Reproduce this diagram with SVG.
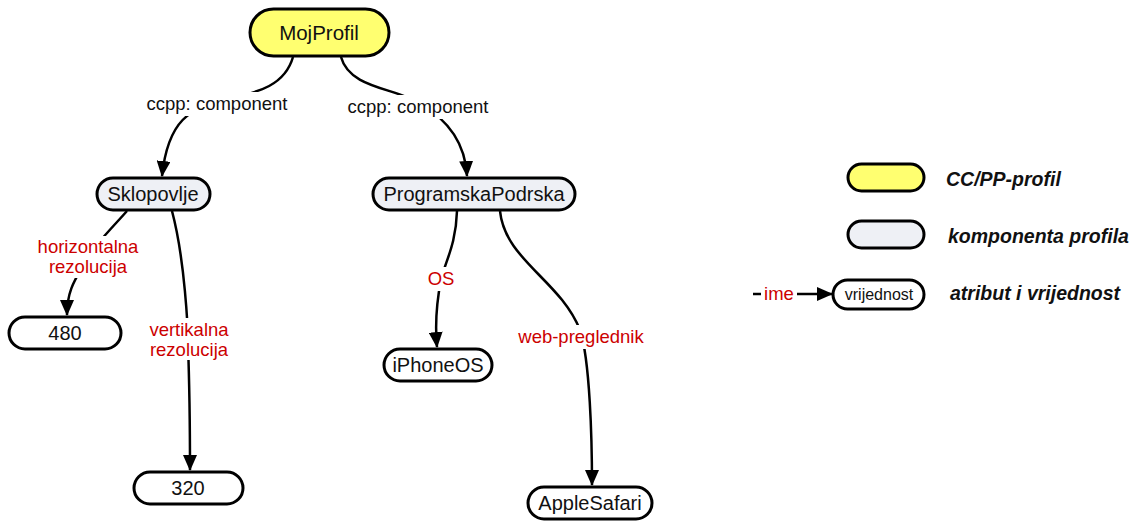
<svg xmlns="http://www.w3.org/2000/svg" width="1137" height="521" viewBox="0 0 1137 521">
<defs>
<marker id="arr" markerUnits="userSpaceOnUse" markerWidth="16" markerHeight="14" refX="15" refY="7" orient="auto">
<path d="M0,0 L16,7 L0,14 Z" fill="#000"/>
</marker>
<style>
.n{stroke:#000;stroke-width:3}
.y{fill:#FFFF70}
.g{fill:#EEF0F5}
.w{fill:#fff}
.t{font-family:"Liberation Sans",Arial,sans-serif;fill:#111;text-anchor:middle}
.c{fill:none;stroke:#000;stroke-width:2.5}
.lb{font-family:"Liberation Sans",Arial,sans-serif;font-size:18.5px;text-anchor:middle;fill:#111}
.lr{font-family:"Liberation Sans",Arial,sans-serif;font-size:18.5px;text-anchor:middle;fill:#CC0000}
.bg{fill:#fff}
.leg{font-family:"Liberation Sans",Arial,sans-serif;font-size:19.5px;font-weight:bold;font-style:italic;fill:#111}
</style>
</defs>
<g id="connectors">
<path class="c" d="M293,57 C285,85 260,92 225,100 C190,108 168,120 162,176" marker-end="url(#arr)"/>
<path class="c" d="M341,57 C350,90 400,88 420,104 C445,118 465,140 467,176" marker-end="url(#arr)"/>
<path class="c" d="M127,211 C110,230 95,245 88,257 C75,280 67,290 67,315" marker-end="url(#arr)"/>
<path class="c" d="M172,211 C185,260 188,330 188,345 C190,400 190,440 190,470" marker-end="url(#arr)"/>
<path class="c" d="M457,211 C456,245 445,262 441,280 C436,305 435,325 437,347" marker-end="url(#arr)"/>
<path class="c" d="M500,211 C505,260 560,280 580,330 C590,360 592,440 592,485" marker-end="url(#arr)"/>
<rect class="bg" x="144" y="92" width="146" height="24"/>
<text class="lb" x="217" y="110">ccpp: component</text>
<rect class="bg" x="345" y="95" width="146" height="24"/>
<text class="lb" x="418" y="113">ccpp: component</text>
<rect class="bg" x="34" y="236" width="108" height="42"/>
<text class="lr" x="88" y="253">horizontalna</text>
<text class="lr" x="88" y="273">rezolucija</text>
<rect class="bg" x="145" y="318" width="90" height="42"/>
<text class="lr" x="189" y="336">vertikalna</text>
<text class="lr" x="189" y="356">rezolucija</text>
<rect class="bg" x="427" y="267" width="28" height="24"/>
<text class="lr" x="441" y="285">OS</text>
<rect class="bg" x="515" y="325" width="132" height="24"/>
<text class="lr" x="581" y="343">web-preglednik</text>
</g>
<g id="MojProfil">
<rect class="n y" x="250" y="9" width="139" height="47" rx="23.5"/>
<text class="t" x="319" y="40" font-size="20.5">MojProfil</text>
</g>
<g id="Sklopovlje">
<rect class="n g" x="97" y="178" width="113" height="32" rx="16"/>
<text class="t" x="153" y="201" font-size="20">Sklopovlje</text>
</g>
<g id="ProgramskaPodrska">
<rect class="n g" x="373" y="178" width="202" height="32" rx="16"/>
<text class="t" x="474" y="201" font-size="20">ProgramskaPodrska</text>
</g>
<g id="n480">
<rect class="n w" x="9" y="317" width="112" height="32" rx="16"/>
<text class="t" x="65" y="340" font-size="20">480</text>
</g>
<g id="n320">
<rect class="n w" x="134" y="472" width="109" height="32" rx="16"/>
<text class="t" x="188" y="495" font-size="20">320</text>
</g>
<g id="iPhoneOS">
<rect class="n w" x="384" y="349" width="108" height="32" rx="16"/>
<text class="t" x="438" y="372" font-size="20">iPhoneOS</text>
</g>
<g id="AppleSafari">
<rect class="n w" x="528" y="487" width="124" height="32" rx="16"/>
<text class="t" x="590" y="510" font-size="20">AppleSafari</text>
</g>
<g id="legend">
<rect class="n y" x="848" y="164" width="76" height="27" rx="13.5"/>
<text class="leg" x="946" y="186">CC/PP-profil</text>
<rect class="n g" x="848" y="221" width="76" height="27" rx="13.5"/>
<text class="leg" x="948" y="243" font-size="20.5">komponenta profila</text>
<line x1="753" y1="294" x2="761" y2="294" stroke="#000" stroke-width="2.5"/>
<text class="lr" x="779" y="300" font-size="18">ime</text>
<line x1="797" y1="294" x2="832" y2="294" stroke="#000" stroke-width="2.5" marker-end="url(#arr)"/>
<rect class="n w" x="833" y="280" width="91" height="29" rx="14.5"/>
<text class="t" x="879" y="300" font-size="16">vrijednost</text>
<text class="leg" x="950" y="300">atribut i vrijednost</text>
</g>
</svg>
